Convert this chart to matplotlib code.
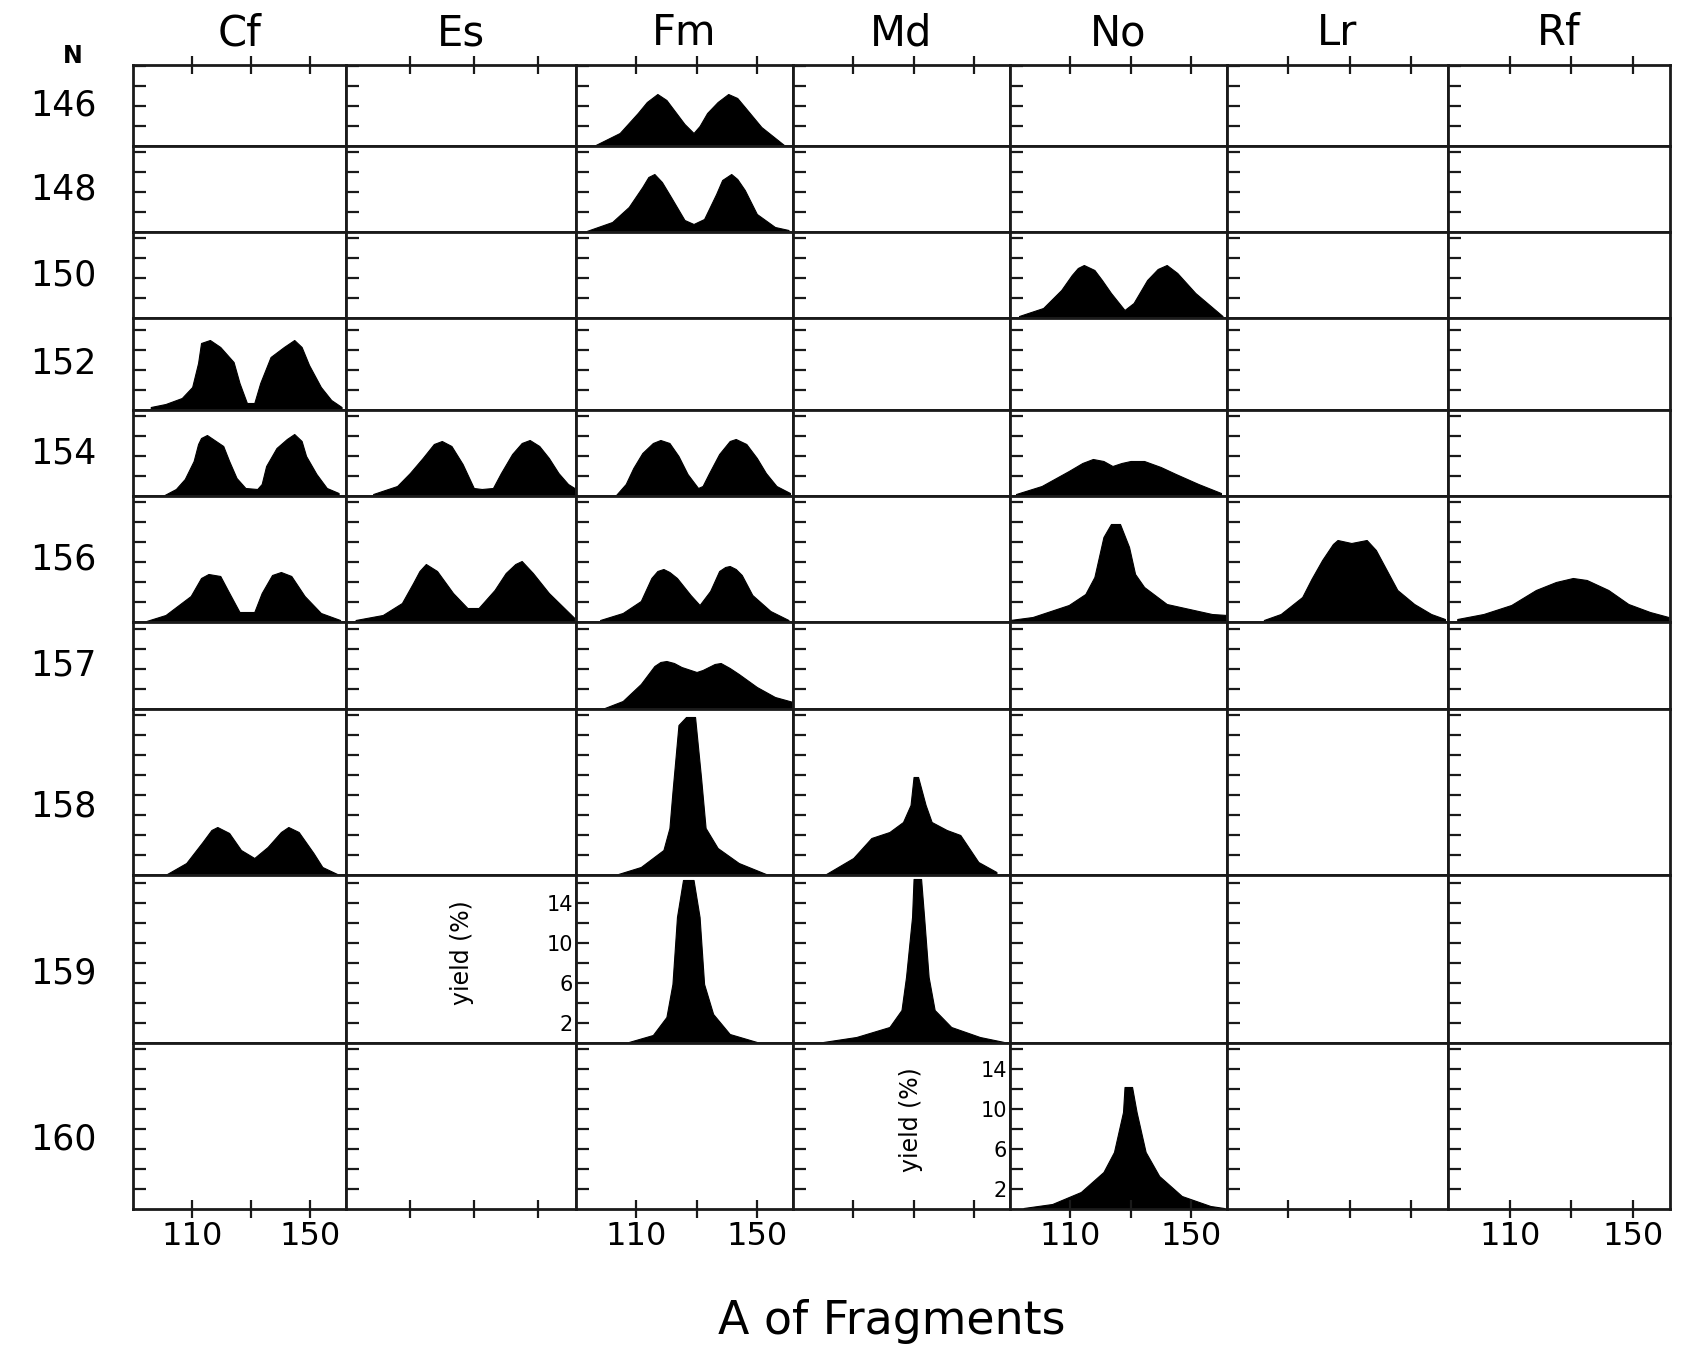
import matplotlib
matplotlib.use('Agg')
import matplotlib.pyplot as plt
from matplotlib.ticker import FixedLocator, FixedFormatter

# neutron numbers (rows) and elements (columns)
N_rows = [146, 148, 150, 152, 154, 156, 157, 158, 159, 160]
elements = ['Cf', 'Es', 'Fm', 'Md', 'No', 'Lr', 'Rf']

# mass yield curves: A of fragment, yield (%)
cf152_A = [96, 101, 106.5, 110, 112, 113, 116, 119.5, 124, 126, 128.5, 131, 133, 136.5, 141, 144.5, 147, 149.5, 153.5, 157, 160.5]
cf152_y = [0.3, 0.6, 1.2, 2.3, 4.7, 6.7, 7.0, 6.3, 4.8, 2.7, 0.7, 0.7, 2.7, 5.3, 6.3, 7.0, 6.3, 4.5, 2.3, 1.0, 0.3]
cf154_A = [100, 104.5, 107.5, 110.5, 112, 113, 115, 117, 120.5, 122.5, 125, 128, 132, 133.5, 135, 138.5, 142, 144.5, 147, 148.5, 152, 155.5, 159.5]
cf154_y = [0.0, 0.7, 1.7, 3.5, 5.2, 5.8, 6.1, 5.7, 5.0, 3.5, 1.8, 0.8, 0.7, 1.2, 3.0, 4.8, 5.7, 6.2, 5.5, 4.0, 2.2, 0.8, 0.3]
cf156_A = [94.5, 101, 109.5, 113, 115.5, 119.5, 122, 126, 131, 133.5, 137, 140, 143.5, 148, 153.5, 160]
cf156_y = [0.1, 0.7, 2.6, 4.4, 4.8, 4.6, 3.2, 1.0, 1.0, 2.9, 4.7, 5.0, 4.6, 2.6, 0.9, 0.2]
cf158_A = [101.5, 108, 113.5, 116.5, 118.5, 122.5, 126.5, 131, 135.5, 140, 142.5, 146, 151, 154, 159]
cf158_y = [0.1, 1.2, 3.3, 4.5, 4.8, 4.2, 2.5, 1.7, 2.8, 4.3, 4.8, 4.3, 2.2, 0.8, 0.1]

es154_A = [98.5, 106, 110, 114, 117.5, 120, 123, 126.5, 130, 132.5, 136, 138.5, 142, 145, 147.5, 150.5, 153.5, 156.5, 159.5, 162]
es154_y = [0.2, 1.0, 2.3, 3.8, 5.2, 5.5, 5.0, 3.2, 0.8, 0.7, 0.8, 2.3, 4.2, 5.3, 5.6, 5.0, 3.8, 2.3, 1.2, 0.7]
es156_A = [93, 101.5, 107.5, 111, 113, 115, 118.5, 123.5, 128, 131.5, 136.5, 140, 143, 145, 148.5, 153.5, 161.5]
es156_y = [0.2, 0.7, 1.9, 3.9, 5.1, 5.8, 5.1, 2.9, 1.4, 1.4, 3.2, 4.9, 5.8, 6.1, 4.9, 2.9, 0.4]

fm146_A = [96.5, 104.5, 110.5, 113.5, 117, 120, 122.5, 126, 129, 131, 133.5, 137, 140.5, 143.5, 146, 151.5, 159]
fm146_y = [0.1, 1.3, 3.3, 4.4, 5.2, 4.6, 3.6, 2.2, 1.3, 2.0, 3.3, 4.4, 5.2, 4.8, 3.9, 1.9, 0.1]
fm148_A = [93.5, 102, 107.5, 112, 114, 116, 118.5, 121.5, 126, 129, 132.5, 136.5, 138.5, 141.5, 143.5, 146, 150, 156, 160.5]
fm148_y = [0.1, 1.0, 2.5, 4.5, 5.5, 5.8, 5.0, 3.5, 1.2, 0.8, 1.3, 3.8, 5.2, 5.8, 5.3, 4.2, 1.8, 0.5, 0.2]
fm154_A = [103, 106.5, 109, 112, 115.5, 118, 121, 124, 127, 130.5, 132, 134, 137.5, 141, 143, 146.5, 150, 153, 156.5, 161]
fm154_y = [0.0, 1.2, 2.8, 4.3, 5.3, 5.6, 5.3, 4.0, 2.2, 0.8, 1.0, 2.2, 4.2, 5.5, 5.7, 5.2, 3.8, 2.3, 1.0, 0.3]
fm156_A = [98, 105.5, 111.5, 115, 117, 119, 121, 123.5, 128, 131, 134.5, 137.5, 139.5, 141, 143, 145, 148.5, 154.5, 160.5]
fm156_y = [0.2, 0.9, 2.1, 4.4, 5.1, 5.3, 5.0, 4.4, 2.7, 1.7, 3.1, 5.1, 5.5, 5.6, 5.3, 4.7, 2.7, 1.1, 0.2]
fm157_A = [99.5, 105.5, 111.5, 116, 118, 120, 122.5, 125, 130, 132, 134, 136, 138, 141, 144, 150, 156, 162]
fm157_y = [0.1, 0.8, 2.5, 4.3, 4.7, 4.8, 4.6, 4.2, 3.7, 3.9, 4.2, 4.5, 4.6, 4.1, 3.5, 2.2, 1.2, 0.7]
fm158_A = [104, 111.5, 119, 121, 122, 124, 126.5, 129.5, 131.5, 133, 137, 144, 153]
fm158_y = [0.1, 0.8, 2.5, 4.7, 8.3, 15.0, 15.8, 15.8, 9.7, 4.7, 2.7, 1.2, 0.1]
fm159_A = [107.5, 115.5, 120, 122, 123.5, 125.5, 129, 131, 132.5, 135.5, 141, 150]
fm159_y = [0.1, 0.8, 2.6, 5.9, 12.6, 16.3, 16.3, 12.6, 5.9, 2.9, 0.9, 0.1]

md158_A = [101, 110, 116, 122, 126.5, 129, 130, 131.5, 134, 136, 141, 145.5, 151.5, 157.5]
md158_y = [0.1, 1.7, 3.7, 4.3, 5.3, 7.0, 9.8, 9.8, 7.0, 5.3, 4.5, 4.0, 1.3, 0.3]
md159_A = [100, 111, 122, 126, 127.5, 129.5, 130, 132.5, 133.5, 135, 137, 142.5, 152, 160]
md159_y = [0.1, 0.6, 1.6, 3.3, 6.6, 12.6, 16.4, 16.4, 12.6, 6.6, 3.3, 1.6, 0.6, 0.1]

no150_A = [93, 101, 107, 110.5, 112.5, 114.5, 118, 120.5, 123.5, 128, 131, 135.5, 139, 142, 145.5, 148.5, 151.5, 160.5]
no150_y = [0.2, 1.0, 2.8, 4.3, 5.0, 5.3, 4.8, 3.8, 2.5, 0.8, 1.5, 3.8, 4.9, 5.3, 4.5, 3.5, 2.5, 0.2]
no154_A = [92, 100.5, 109.5, 114, 117.5, 121, 124, 127, 130, 134.5, 140, 145, 152.5, 160]
no154_y = [0.2, 1.0, 2.5, 3.3, 3.7, 3.5, 3.0, 3.3, 3.5, 3.5, 2.9, 2.2, 1.2, 0.3]
no156_A = [90, 97.5, 109.5, 115, 118, 121, 123.5, 126.5, 129.5, 131.5, 134.5, 142, 149.5, 157, 162]
no156_y = [0.2, 0.5, 1.7, 2.8, 4.5, 8.5, 9.8, 9.8, 7.5, 4.8, 3.5, 1.8, 1.3, 0.8, 0.7]
no160_A = [94.5, 104, 113.5, 121, 124.5, 127.5, 128, 130.5, 132, 135, 139.5, 147, 156.5, 161]
no160_y = [0.1, 0.5, 1.7, 3.7, 5.7, 9.7, 12.2, 12.2, 9.7, 5.7, 3.3, 1.3, 0.3, 0.1]

lr156_A = [102, 107.5, 114.5, 117.5, 121, 124.5, 126, 130.5, 135.5, 138.5, 142, 145.5, 151, 156.5, 161]
lr156_y = [0.2, 0.8, 2.5, 4.3, 6.2, 7.8, 8.2, 7.9, 8.2, 7.2, 5.2, 3.2, 1.8, 0.8, 0.3]

rf156_A = [93, 101.5, 110.5, 118.5, 125, 130.5, 135, 142, 148.5, 155.5, 161.5]
rf156_y = [0.3, 0.8, 1.7, 3.2, 4.0, 4.4, 4.2, 3.2, 1.8, 1.0, 0.5]

curves = {
    (152, 'Cf'): (cf152_A, cf152_y), (154, 'Cf'): (cf154_A, cf154_y),
    (156, 'Cf'): (cf156_A, cf156_y), (158, 'Cf'): (cf158_A, cf158_y),
    (154, 'Es'): (es154_A, es154_y), (156, 'Es'): (es156_A, es156_y),
    (146, 'Fm'): (fm146_A, fm146_y), (148, 'Fm'): (fm148_A, fm148_y),
    (154, 'Fm'): (fm154_A, fm154_y), (156, 'Fm'): (fm156_A, fm156_y),
    (157, 'Fm'): (fm157_A, fm157_y), (158, 'Fm'): (fm158_A, fm158_y),
    (159, 'Fm'): (fm159_A, fm159_y),
    (158, 'Md'): (md158_A, md158_y), (159, 'Md'): (md159_A, md159_y),
    (150, 'No'): (no150_A, no150_y), (154, 'No'): (no154_A, no154_y),
    (156, 'No'): (no156_A, no156_y), (160, 'No'): (no160_A, no160_y),
    (156, 'Lr'): (lr156_A, lr156_y),
    (156, 'Rf'): (rf156_A, rf156_y),
}
# cells that carry the yield scale
yscale_cells = [(159, 'Fm'), (160, 'No')]

# layout in pixels of the 1689x1349 picture
W, H = 1689, 1349
col_px = [133, 346, 576, 793, 1010, 1227, 1448, 1670]
row_px = [65, 146, 232, 318, 410, 496, 622, 709, 875, 1043, 1209]
px_per_pct = 10.0

fig = plt.figure(figsize=(W / 100, H / 100), dpi=100)
edge = '#1a1a1a'

for i, n in enumerate(N_rows):
    top, bot = row_px[i], row_px[i + 1]
    for j, el in enumerate(elements):
        left, right = col_px[j], col_px[j + 1]
        ax = fig.add_axes([left / W, 1 - bot / H, (right - left) / W, (bot - top) / H])
        ax.set_xlim(90, 162)
        ax.set_ylim(0, (bot - top) / px_per_pct)
        for s in ax.spines.values():
            s.set_linewidth(2.0)
            s.set_color(edge)

        if (n, el) in curves:
            A, y = curves[(n, el)]
            ax.fill_between(A, y, 0, color='black', linewidth=0.8)

        ax.yaxis.set_major_locator(FixedLocator([2, 4, 6, 8, 10, 12, 14, 16]))
        ax.tick_params(axis='y', direction='in', length=9, width=1.6, color=edge,
                       left=True, right=False, labelleft=False)

        ax.xaxis.set_major_locator(FixedLocator([110, 130, 150]))
        ax.xaxis.set_major_formatter(FixedFormatter(['110', '', '150']))
        ax.tick_params(axis='x', direction='inout', length=13, width=1.6, color=edge,
                       top=(i == 0), bottom=(i == len(N_rows) - 1),
                       labeltop=False,
                       labelbottom=(i == len(N_rows) - 1 and j % 2 == 0),
                       labelsize=23, pad=2)

        if (n, el) in yscale_cells:
            ax.yaxis.set_major_formatter(FixedFormatter(['2', '', '6', '', '10', '', '14', '']))
            ax.tick_params(axis='y', labelleft=True, labelsize=15, pad=2)
            ax.set_ylabel('yield (%)', fontsize=17)
            ax.yaxis.set_label_coords(-0.47 if el == 'Fm' else -0.40, 0.54)

# column titles
for j, el in enumerate(elements):
    fig.text((col_px[j] + col_px[j + 1]) / 2 / W, 1 - 33 / H, el,
             ha='center', va='center', fontsize=30)

# row labels
fig.text(73 / W, 1 - 56 / H, 'N', ha='center', va='center', fontsize=17, fontweight='bold')
for i, n in enumerate(N_rows):
    top, bot = row_px[i], row_px[i + 1]
    yc = (top + bot) / 2
    if bot - top > 150:
        yc += 14
    fig.text(63 / W, 1 - yc / H, str(n), ha='center', va='center', fontsize=25)

fig.text(892 / W, 1 - 1322 / H, 'A of Fragments', ha='center', va='center', fontsize=33)

fig.savefig('out.png', dpi=100)
